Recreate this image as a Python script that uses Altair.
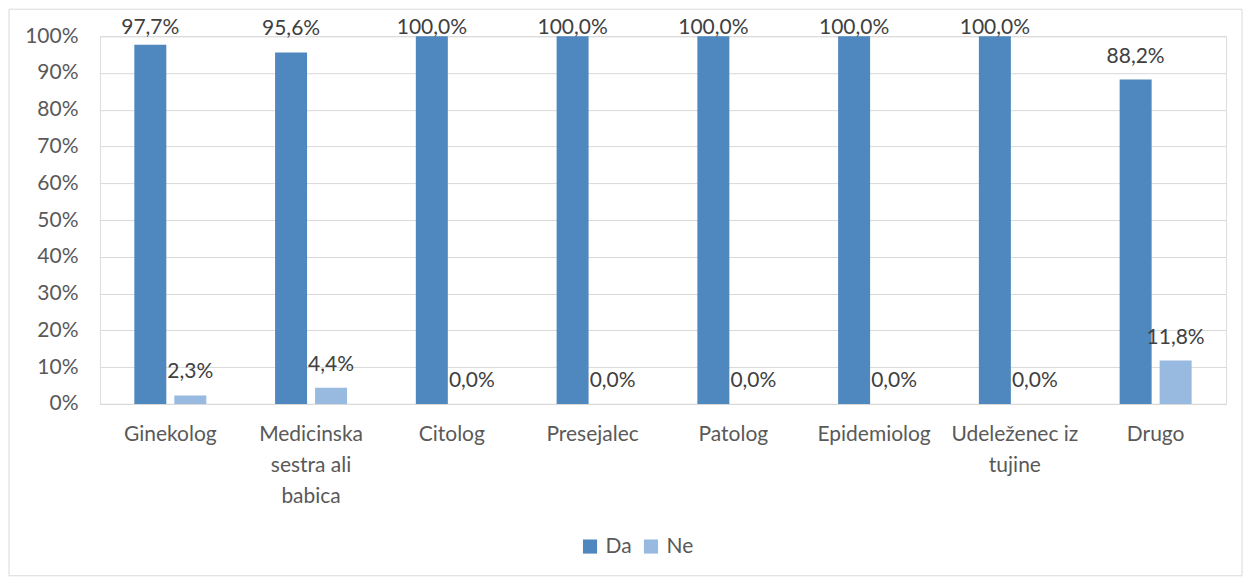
import altair as alt
import pandas as pd

categories = ["Ginekolog", "Medicinska\nsestra ali\nbabica", "Citolog", "Presejalec",
              "Patolog", "Epidemiolog", "Udeleženec iz\ntujine", "Drugo"]
da_values = [97.7, 95.6, 100.0, 100.0, 100.0, 100.0, 100.0, 88.2]
ne_values = [2.3, 4.4, 0.0, 0.0, 0.0, 0.0, 0.0, 11.8]
series = ["Da", "Ne"]
colors = ["#4F88BE", "#98B9E0"]
y_ticks = [0, 10, 20, 30, 40, 50, 60, 70, 80, 90, 100]

rows = []
for c, d, n in zip(categories, da_values, ne_values):
    rows.append({"cat": c, "series": "Da", "value": d})
    rows.append({"cat": c, "series": "Ne", "value": n})
df = pd.DataFrame(rows)

FONT = "Lato"
FS = 21
W, H = 1127, 368

x_enc = alt.X("cat:N", sort=categories, title=None,
              scale=alt.Scale(paddingInner=0, paddingOuter=0),
              axis=alt.Axis(labelExpr="split(datum.label, '\\n')", labelAngle=0,
                            labelFontSize=FS, labelFont=FONT, labelColor="#595959",
                            labelPadding=20, labelLineHeight=31, labelBaseline="top",
                            ticks=False, domain=True, domainColor="#d9d9d9",
                            grid=False, labelLimit=200))
xoff = alt.XOffset("series:N", sort=series,
                   scale=alt.Scale(paddingInner=0.2, paddingOuter=0.86))
y_scale = alt.Scale(domain=[0, 100], nice=False)
y_axis = alt.Axis(values=y_ticks, labelExpr="datum.value + '%'", tickCount=11,
                  labelFontSize=FS, labelFont=FONT, labelColor="#595959",
                  labelPadding=22, ticks=False, domain=False, labelOverlap=False,
                  gridColor="#d9d9d9", gridWidth=1)
color = alt.Color("series:N", sort=series,
                  scale=alt.Scale(domain=series, range=colors),
                  legend=alt.Legend(title=None, orient="none", direction="horizontal",
                                    legendX=480, legendY=500, symbolType="square",
                                    symbolSize=200, symbolStrokeWidth=0,
                                    labelFontSize=FS, labelFont=FONT,
                                    labelColor="#595959", columnPadding=8,
                                    labelOffset=5))

bars = alt.Chart(df).mark_bar().encode(
    x=x_enc,
    xOffset=xoff,
    y=alt.Y("value:Q", title=None, scale=y_scale, axis=y_axis),
    color=color,
)

labels = alt.Chart(df).transform_calculate(
    label="replace(format(datum.value, '.1f'), '.', ',') + '%'",
    label_y="min(datum.value, 96)",
).mark_text(font=FONT, fontSize=FS, color="#404040", baseline="alphabetic",
            dy=-17).encode(
    x=alt.X("cat:N", sort=categories),
    xOffset=alt.XOffset("series:N", sort=series),
    y=alt.Y("label_y:Q", title=None, scale=y_scale, axis=y_axis),
    text="label:N",
)

border = alt.Chart(pd.DataFrame({"a": [0]})).mark_rect(
    fill="transparent", stroke="#d9d9d9", strokeWidth=1).encode(
    x=alt.value(-91), x2=alt.value(W + 16),
    y=alt.value(-27), y2=alt.value(H + 172),
)

chart = alt.layer(bars, labels, border).properties(
    width=W, height=H,
    autosize=alt.AutoSizeParams(type="none"),
    padding={"left": 92, "top": 28, "right": 18, "bottom": 174},
).configure_view(stroke=None).configure(font=FONT)

chart.save("out.html", embed_options={"renderer": "svg", "actions": False})
